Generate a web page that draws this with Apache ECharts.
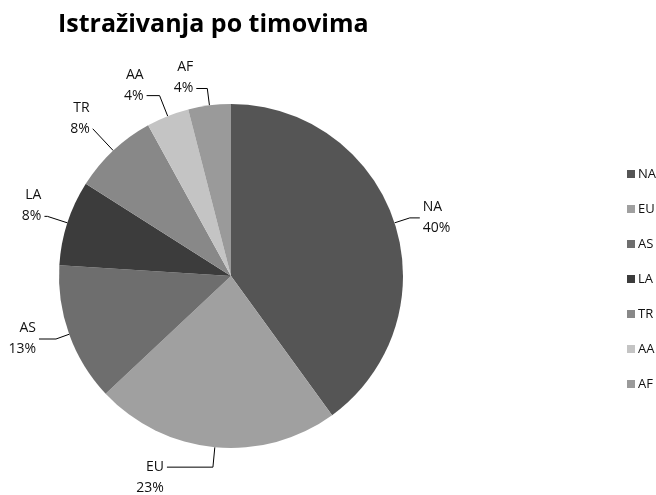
<!DOCTYPE html>
<html>
<head>
<meta charset="utf-8">
<script src="https://cdn.jsdelivr.net/npm/echarts@6/dist/echarts.min.js"></script>
<style>html,body{margin:0;padding:0;background:#fff}#c{width:656px;height:495px}</style>
</head>
<body>
<div id="c"></div>
<script>
const titleText = 'Istraživanja po timovima';
const categories = ['NA', 'EU', 'AS', 'LA', 'TR', 'AA', 'AF'];
const values = [40, 23, 13, 8, 8, 4, 4];
const colors = ['#555555', '#a0a0a0', '#6e6e6e', '#3c3c3c', '#888888', '#c4c4c4', '#9a9a9a'];

// leader-line styling per slice
const lineLen  = [16, 20, 14, 21, 30, 22, 17];
const lineLen2 = [10, 46, 17, 3, 0, 13, 11];
// where the leader line meets the two-line label: 'mid', 'top' row, 'bottom' row
const lineAt = ['mid', 'top', 'mid', 'bottom', 'bottom', 'bottom', 'bottom'];

const chart = echarts.init(document.getElementById('c'), null, {renderer: 'canvas'});
const font = 'Open Sans';
chart.setOption({
  animation: false,
  backgroundColor: '#fff',
  color: colors,
  title: {
    text: titleText,
    left: 53, top: 7,
    textStyle: {fontFamily: font, fontWeight: 'bold', fontSize: 25, color: '#000'}
  },
  legend: {
    orient: 'vertical',
    left: 622, top: 160,
    itemWidth: 8, itemHeight: 8, itemGap: 17,
    icon: 'rect',
    textStyle: {fontFamily: font, fontSize: 13, color: '#111', padding: [0, 0, 0, -2], lineHeight: 18},
    data: categories
  },
  series: [{
    type: 'pie',
    center: [231, 276],
    radius: 172,
    startAngle: 90,
    clockwise: true,
    avoidLabelOverlap: false,
    data: categories.map((c, i) => ({
      name: c,
      value: values[i],
      labelLine: {length: lineLen[i], length2: lineLen2[i]}
    })),
    label: {
      show: true,
      formatter: function (p) {
        const txt = p.name + '\n' + Math.round(p.percent) + '%';
        const mode = lineAt[p.dataIndex];
        if (mode === 'top') return ' \n' + txt;
        if (mode === 'bottom') return txt + '\n ';
        return txt;
      },
      fontFamily: font, fontSize: 14, color: '#111', lineHeight: 21,
      align: 'center',
      distanceToLabelLine: 3
    },
    labelLine: {show: true, lineStyle: {color: '#000', width: 1}},
    itemStyle: {borderColor: '#fff', borderWidth: 0}
  }]
});
</script>
</body>
</html>
